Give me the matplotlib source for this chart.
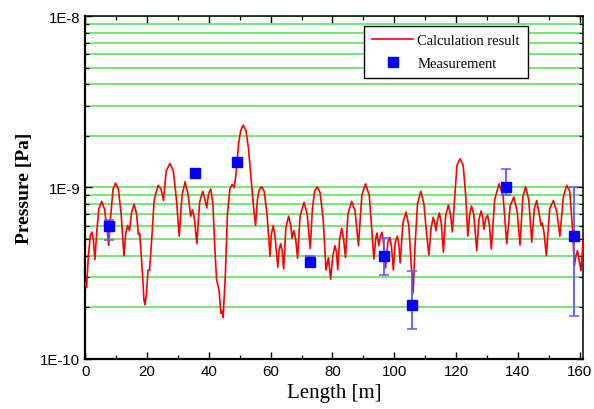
import numpy as np
import matplotlib
matplotlib.use("Agg")
import matplotlib.pyplot as plt
from matplotlib.ticker import LogLocator, FuncFormatter, MultipleLocator, NullFormatter


# ============================================================
# 1. DATA
# ============================================================

# Calculation result: length [m] and pressure [Pa]
calc_x = [
    0.0, 0.4, 1.0, 1.6, 2.1, 2.6, 3.1, 3.7, 4.4, 5.3, 6.2, 7.0, 7.6, 8.2, 9.0, 9.8,
    10.7, 11.6, 12.5, 13.1, 13.7, 14.3, 15.0, 15.8, 16.6, 17.2, 17.6, 18.3, 19.0,
    19.3, 19.8, 20.3, 20.8, 21.5, 22.3, 23.6, 24.5, 25.3, 26.2, 27.4, 28.5, 29.5,
    30.4, 31.3, 32.3, 33.3, 34.1, 34.7, 35.3, 36.1, 37.0, 38.0, 38.8, 39.3, 39.9,
    40.6, 41.3, 41.9, 42.5, 43.3, 43.9, 44.3, 44.6, 45.3, 46.0, 46.8, 47.5, 48.2,
    48.8, 49.6, 50.3, 51.1, 52.0, 52.8, 53.7, 54.5, 55.1, 55.7, 56.3, 57.1, 57.9,
    58.8, 59.8, 60.2, 60.8, 61.4, 62.3, 62.7, 63.2, 63.7, 64.2, 64.9, 65.8, 66.5,
    66.9, 67.5, 68.1, 68.7, 69.5, 70.8, 71.8, 72.8, 73.5, 74.2, 75.1, 76.0, 77.0,
    77.9, 78.7, 79.4, 80.1, 80.8, 81.3, 81.7, 82.3, 83.0, 83.6, 84.2, 85.0, 86.2,
    87.3, 88.4, 89.5, 90.7, 91.9, 93.4, 94.0, 94.4, 95.0, 95.5, 96.0, 96.5, 97.2,
    97.9, 98.6, 99.1, 99.7, 100.3, 101.0, 101.5, 101.9, 102.8, 103.8, 104.7, 105.5,
    106.1, 106.7, 107.5, 108.6, 109.6, 110.4, 111.2, 111.9, 112.6, 113.1, 113.5,
    114.0, 114.6, 115.2, 115.9, 116.6, 117.5, 118.2, 118.8, 119.5, 120.3, 121.3,
    122.3, 123.1, 123.8, 124.4, 125.0, 125.7, 126.7, 127.4, 128.1, 128.6, 129.0,
    129.6, 130.2, 130.8, 131.4, 132.5, 133.9, 135.2, 136.4, 137.5, 138.7, 139.8,
    140.7, 141.6, 142.5, 143.5, 144.5, 145.3, 146.1, 146.9, 147.5, 147.9, 148.5,
    149.2, 150.3, 151.5, 152.6, 153.6, 154.7, 155.8, 156.8, 157.6, 158.3, 158.8,
    159.3, 159.8, 160.4, 161.0, 161.5,
]
calc_p = [
    2.8e-10, 2.6e-10, 4.0e-10, 5.2e-10, 5.5e-10, 5.0e-10, 3.8e-10, 5.5e-10, 7.5e-10,
    8.3e-10, 7.5e-10, 5.8e-10, 4.6e-10, 6.8e-10, 9.8e-10, 1.06e-9, 9.8e-10, 7.0e-10,
    4.0e-10, 5.4e-10, 6.0e-10, 5.6e-10, 7.2e-10, 8.0e-10, 7.0e-10, 5.3e-10, 5.4e-10,
    3.6e-10, 2.2e-10, 2.07e-10, 2.4e-10, 3.3e-10, 3.3e-10, 5.0e-10, 8.5e-10, 1.03e-9,
    9.8e-10, 8.4e-10, 1.25e-9, 1.38e-9, 1.25e-9, 8.5e-10, 5.2e-10, 9.0e-10, 1.08e-9,
    9.0e-10, 6.8e-10, 7.4e-10, 6.6e-10, 4.7e-10, 8.2e-10, 9.5e-10, 8.4e-10, 7.6e-10,
    9.2e-10, 9.8e-10, 8.0e-10, 4.5e-10, 2.9e-10, 2.5e-10, 1.85e-10, 1.9e-10, 1.75e-10,
    3.0e-10, 7.0e-10, 9.8e-10, 1.04e-9, 1.0e-9, 1.2e-9, 1.8e-9, 2.15e-9, 2.31e-9,
    2.15e-9, 1.7e-9, 1.1e-9, 7.5e-10, 6.0e-10, 8.5e-10, 9.7e-10, 1.01e-9, 9.5e-10,
    7.0e-10, 3.97e-10, 5.3e-10, 6.0e-10, 5.2e-10, 3.43e-10, 4.3e-10, 4.7e-10, 4.3e-10,
    3.35e-10, 5.8e-10, 6.8e-10, 6.0e-10, 5.06e-10, 5.6e-10, 5.0e-10, 3.87e-10, 6.8e-10,
    8.2e-10, 7.0e-10, 4.4e-10, 7.5e-10, 9.5e-10, 1.01e-9, 9.3e-10, 6.5e-10, 3.3e-10,
    3.9e-10, 2.92e-10, 4.0e-10, 4.58e-10, 4.2e-10, 3.32e-10, 5.0e-10, 5.78e-10, 5.0e-10,
    3.9e-10, 7.0e-10, 8.3e-10, 7.3e-10, 4.58e-10, 9.0e-10, 1.05e-9, 9.0e-10, 3.83e-10,
    5.0e-10, 5.43e-10, 4.58e-10, 5.2e-10, 5.48e-10, 4.8e-10, 3.4e-10, 4.8e-10, 5.1e-10,
    4.5e-10, 3.3e-10, 4.8e-10, 5.2e-10, 4.6e-10, 3.63e-10, 6.2e-10, 7.2e-10, 6.0e-10,
    3.5e-10, 2.43e-10, 4.5e-10, 8.0e-10, 9.5e-10, 8.0e-10, 5.5e-10, 4.04e-10, 5.8e-10,
    6.7e-10, 6.2e-10, 5.6e-10, 6.5e-10, 7.1e-10, 6.2e-10, 4.2e-10, 6.8e-10, 7.9e-10,
    7.0e-10, 5.5e-10, 8.5e-10, 1.35e-9, 1.47e-9, 1.35e-9, 9.0e-10, 5.2e-10, 7.0e-10,
    7.8e-10, 7.0e-10, 4.28e-10, 6.5e-10, 7.3e-10, 6.7e-10, 5.7e-10, 6.6e-10, 6.9e-10,
    6.0e-10, 4.37e-10, 8.5e-10, 1.05e-9, 9.0e-10, 4.7e-10, 7.8e-10, 8.8e-10, 7.2e-10,
    4.6e-10, 8.8e-10, 1.01e-9, 8.5e-10, 4.8e-10, 7.5e-10, 8.4e-10, 7.0e-10, 6.0e-10,
    6.2e-10, 5.4e-10, 4.0e-10, 7.5e-10, 8.4e-10, 7.2e-10, 5.2e-10, 8.8e-10, 1.03e-9,
    9.5e-10, 6.0e-10, 3.5e-10, 4.0e-10, 4.28e-10, 3.8e-10, 3.27e-10, 4.6e-10, 5.8e-10,
]

# Measurements with upper / lower error limits
meas_x = [7.6, 35.6, 49.1, 72.8, 96.8, 105.8, 136.1, 158.2]
meas_p = [5.98e-10, 1.22e-9, 1.41e-9, 3.70e-10, 4.0e-10, 2.07e-10, 1.0e-9, 5.2e-10]
meas_hi = [6.45e-10, 1.22e-9, 1.41e-9, 3.97e-10, 5.1e-10, 3.27e-10, 1.29e-9, 1.0e-9]
meas_lo = [4.96e-10, 1.22e-9, 1.41e-9, 3.55e-10, 3.09e-10, 1.50e-10, 9.0e-10, 1.79e-10]


# ============================================================
# 2. FIGURE
# ============================================================

plt.rcParams["font.family"] = "Liberation Sans"

fig = plt.figure(figsize=(5.94, 4.10), dpi=100)
ax = fig.add_axes([0.1436, 0.122, 0.838, 0.8365])

ax.set_yscale("log")
ax.set_xlim(0, 161.1)
ax.set_ylim(1e-10, 1e-8)

# Green horizontal grid at every decade subdivision
ax.yaxis.grid(True, which="both", color="#4fe04f", linewidth=1.1, zorder=0)
ax.xaxis.grid(False)
ax.set_axisbelow(True)

ax.plot(calc_x, calc_p, color="red", linewidth=1.2, label="Calculation result", zorder=3)

yerr = [
    np.array(meas_p) - np.array(meas_lo),
    np.array(meas_hi) - np.array(meas_p),
]
ax.errorbar(
    meas_x, meas_p, yerr=yerr,
    fmt="none", ecolor="#5a5aff", elinewidth=1.3, capsize=3.5, capthick=1.1, zorder=4
)
ax.plot(
    meas_x, meas_p, linestyle="none", marker="s", markersize=6.5,
    color="blue", label="Measurement", zorder=5
)

# Ticks
ax.xaxis.set_major_locator(MultipleLocator(20))
ax.xaxis.set_minor_locator(MultipleLocator(10))
ax.yaxis.set_major_locator(LogLocator(base=10))
ax.yaxis.set_minor_locator(LogLocator(base=10, subs=np.arange(2, 10)))
ax.yaxis.set_minor_formatter(NullFormatter())
ax.yaxis.set_major_formatter(FuncFormatter(lambda v, pos: f"1E{int(round(np.log10(v)))}"))

ax.tick_params(which="both", direction="in", top=True, right=True, labelsize=10.8, colors="black")
ax.tick_params(which="major", length=5, width=1.0)
ax.tick_params(which="minor", length=3, width=0.9)

for side in ["left", "bottom"]:
    ax.spines[side].set_linewidth(1.6)
for side in ["top", "right"]:
    ax.spines[side].set_linewidth(1.1)

ax.set_xlabel("Length [m]", family="Liberation Serif", fontsize=15, labelpad=4)
ax.set_ylabel("Pressure [Pa]", family="Liberation Serif", fontsize=14, fontweight="bold", labelpad=5)

leg = ax.legend(
    loc="upper right", bbox_to_anchor=(0.889, 0.971), borderaxespad=0,
    prop={"family": "Liberation Serif", "size": 10.5},
    frameon=True, fancybox=False, edgecolor="black", framealpha=1,
    handlelength=2.8, handletextpad=0.3, borderpad=0.55, labelspacing=0.65
)
leg.get_frame().set_linewidth(1.0)

fig.savefig("out.png", dpi=100)
